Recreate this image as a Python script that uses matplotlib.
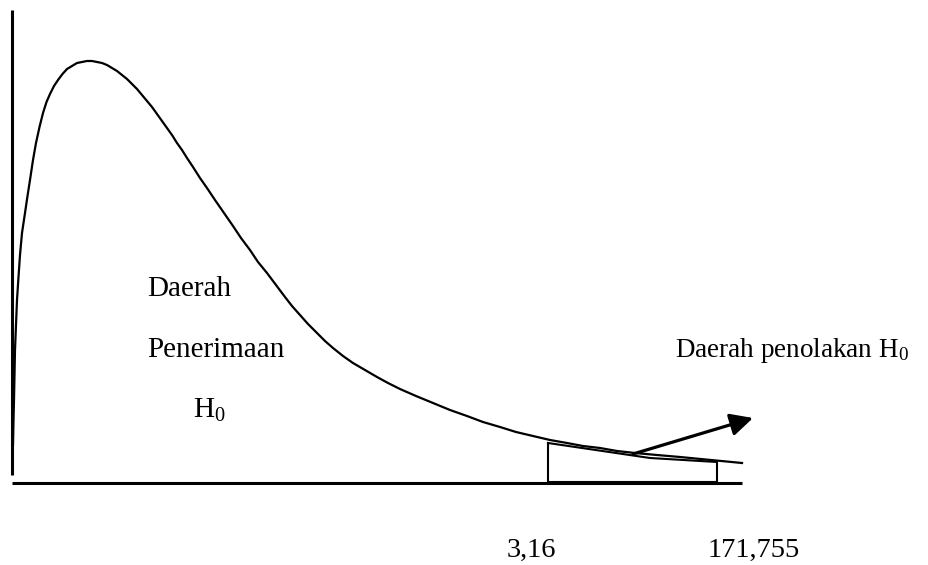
import matplotlib
matplotlib.use("Agg")
import matplotlib.pyplot as plt

plt.rcParams['font.family'] = ['Liberation Serif', 'DejaVu Serif']
plt.rcParams['mathtext.fontset'] = 'custom'
plt.rcParams['mathtext.rm'] = 'Liberation Serif'
plt.rcParams['mathtext.it'] = 'Liberation Serif:italic'

# Curve (pixel coordinates, y downward)
curve_x = [13, 13.5, 14, 15, 16, 17, 18.5, 20, 22, 25, 27.5, 30, 33, 36, 39.5, 43, 46.5, 50,
           54, 58, 62.5, 67, 72, 77, 82, 87, 92, 97, 102, 107, 112, 117, 122, 127, 132,
           137, 142, 147, 152, 157, 162, 167, 172, 177, 182, 187, 193, 200, 207, 215,
           224, 233, 241, 250, 258, 267, 276, 285, 292, 300, 308, 317, 325, 333, 343,
           353, 365, 377, 388, 400, 416, 433, 450, 467, 483, 500, 516, 533, 550, 567,
           583, 600, 617, 635, 657, 680, 711, 742]
curve_y = [445, 420, 400, 350, 325, 300, 277, 255, 233, 213, 196, 180, 160, 143, 127,
           113, 102, 94, 86, 80, 74, 69, 66, 63, 62, 61, 61, 62, 63, 65, 68, 71, 75, 79,
           84, 89, 95, 101, 107, 114, 121, 128, 135, 143, 150, 158, 167, 178, 188, 200,
           213, 226, 238, 250, 262, 273, 285, 297, 306, 315, 324, 333, 341, 348, 356,
           363, 370, 377, 383, 389, 396, 403, 410, 416, 422, 427, 432, 436, 440, 443,
           446, 448, 451, 453, 455, 457, 460, 463]

# Rejection-region outline
region_x = [548, 650, 717, 717, 548, 548]
region_y = [443, 458, 462, 482, 482, 443]

# Axes lines
yaxis_x = [12.5, 12.5]
yaxis_y = [10, 475]
xaxis_x = [12, 742]
xaxis_y = [483, 483]

# Arrow
arrow_start = (633, 454)
arrow_end = (753, 418)

# Labels
left_labels = ["Daerah", "Penerimaan", r"H$_0$"]
left_label_x = [147, 147, 193]
left_label_y = [296, 357, 418]
right_label = r"Daerah penolakan H$_0$"
right_label_pos = (675, 357)
tick_labels = ["3,16", "171,755"]
tick_label_x = [507, 708]
tick_label_y = [557, 557]

fig = plt.figure(figsize=(9.29, 5.65), dpi=100)
ax = fig.add_axes([0, 0, 1, 1])
ax.set_xlim(0, 929)
ax.set_ylim(565, 0)
ax.axis('off')

ax.plot(yaxis_x, yaxis_y, color='black', lw=2.2, solid_capstyle='butt')
ax.plot(xaxis_x, xaxis_y, color='black', lw=2.2, solid_capstyle='butt')
ax.plot(curve_x, curve_y, color='black', lw=1.6, solid_joinstyle='round')
ax.plot(region_x, region_y, color='black', lw=1.5)

ax.annotate('', xy=arrow_end, xytext=arrow_start,
            arrowprops=dict(arrowstyle='-|>', color='black', lw=2.3,
                            mutation_scale=34, shrinkA=0, shrinkB=0))

for t, x, y in zip(left_labels, left_label_x, left_label_y):
    ax.text(x, y, t, fontsize=21, ha='left', va='baseline')
ax.text(right_label_pos[0], right_label_pos[1], right_label, fontsize=19.5,
        ha='left', va='baseline')
for t, x, y in zip(tick_labels, tick_label_x, tick_label_y):
    ax.text(x, y, t, fontsize=20.5, ha='left', va='baseline')

fig.savefig('out.png', dpi=100)
